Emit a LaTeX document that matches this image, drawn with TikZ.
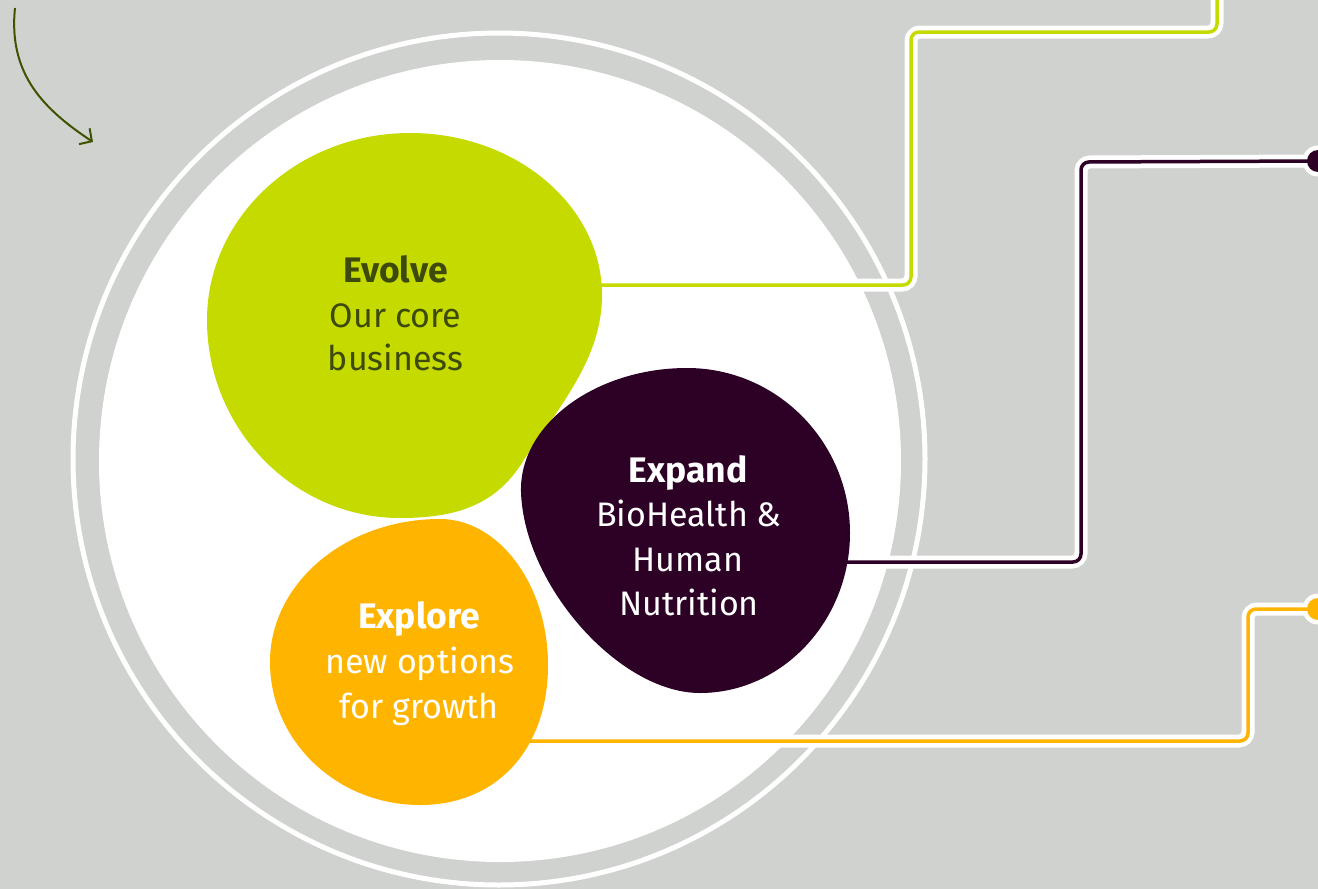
\documentclass[tikz,border=0pt]{standalone}
\usepackage{fontspec}
\setmainfont{Fira Sans}
\usetikzlibrary{arrows.meta}
\definecolor{bgc}{HTML}{D0D2CF}
\definecolor{evgreen}{HTML}{C5DB00}
\definecolor{expurple}{HTML}{2D0026}
\definecolor{exorange}{HTML}{FFB500}
\definecolor{olivetext}{HTML}{3E4A0B}
\definecolor{arrowc}{HTML}{3D5300}
\begin{document}
\begin{tikzpicture}[x=1pt,y=-1pt,
  casing/.style={white, line width=13pt, rounded corners=9pt},
  link/.style={line width=3.5pt, rounded corners=8pt},
  lbl/.style={anchor=base, inner sep=0pt, font=\fontsize{34}{44}\selectfont},
  head/.style={anchor=base, inner sep=0pt, font=\fontsize{35.5}{44}\selectfont\bfseries}]
\useasboundingbox (0,0) rectangle (1318,889);
\clip (0,0) rectangle (1318,889);
\fill[bgc] (0,0) rectangle (1318,889);
% rings
\draw[white, line width=5pt] (499,459) circle (426pt);
\fill[white] (500,461) circle (401pt);
% arrow
\coordinate (arrS) at (15,8);
\coordinate (arrE) at (93,142);
\draw[arrowc, line width=2pt, -{Straight Barb[length=9pt,width=19pt,line width=2pt]}]
  (arrS) .. controls (8,75) and (45,110) .. (arrE);
% connector coordinates
\coordinate (gA) at (600,285);
\coordinate (gB) at (911,32);
\coordinate (gC) at (1217,-10);
\coordinate (pA) at (845,562);
\coordinate (pB) at (1081,162);
\coordinate (pDot) at (1318,161);
\coordinate (oA) at (525,741);
\coordinate (oB) at (1248,609);
\coordinate (oDot) at (1318,609);
% casings
\draw[casing] (gA) -| (gB) -| (gC);
\draw[casing] (pA) -| (pB) -- (pDot);
\draw[casing] (oA) -| (oB) -- (oDot);
\fill[white] (pDot) circle (15.5pt);
\fill[white] (oDot) circle (15.5pt);
% colored lines
\draw[link, evgreen] (gA) -| (gB) -| (gC);
\draw[link, expurple] (pA) -| (pB) -- (pDot);
\draw[link, exorange] (oA) -| (oB) -- (oDot);
\fill[expurple] (pDot) circle (11pt);
\fill[exorange] (oDot) circle (11pt);
% blobs
\fill[evgreen] (410,133) .. controls (516,133) and (602,206) .. (602,295)
  .. controls (602,355) and (565,400) .. (525,458)
  .. controls (497,506) and (455,518) .. (400,518)
  .. controls (294,518) and (207,429) .. (207,320)
  .. controls (207,217) and (298,133) .. (410,133) -- cycle;
\fill[expurple] (687,368) .. controls (777,368) and (850,442) .. (850,533)
  .. controls (850,621) and (782,693) .. (700,693)
  .. controls (619,693) and (524,585) .. (521,492)
  .. controls (519,424) and (596,368) .. (687,368) -- cycle;
\fill[exorange] (440,519) .. controls (499,519) and (548,585) .. (548,665)
  .. controls (548,749) and (497,805) .. (420,805)
  .. controls (337,805) and (270,741) .. (270,662)
  .. controls (270,583) and (346,519) .. (440,519) -- cycle;
% texts
\node[head, olivetext] (evh) at (395.5,282) {Evolve};
\node[lbl, olivetext] (ev1) at (395.5,327) {Our core};
\node[lbl, olivetext] (ev2) at (395.5,370) {business};
\node[head, white] (exh) at (688,482) {Expand};
\node[lbl, white] (ex1) at (689,526) {BioHealth \&};
\node[lbl, white] (ex2) at (688,571) {Human};
\node[lbl, white] (ex3) at (689,615) {Nutrition};
\node[head, white] (eph) at (419,628) {Explore};
\node[lbl, white] (ep1) at (420,673) {new options};
\node[lbl, white] (ep2) at (419,718) {for growth};
\end{tikzpicture}
\end{document}
